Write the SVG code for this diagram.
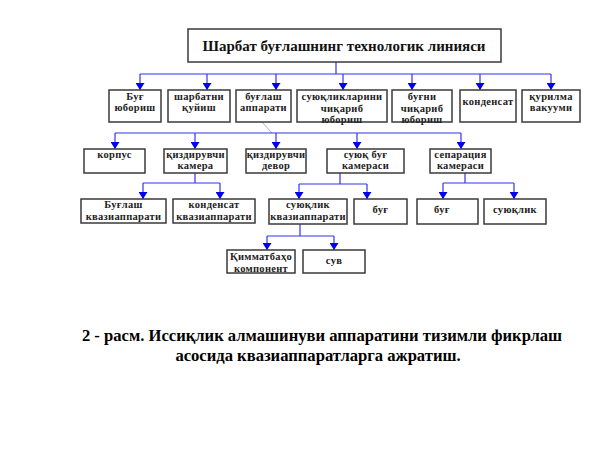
<svg xmlns="http://www.w3.org/2000/svg" width="612" height="454" viewBox="0 0 612 454">
<defs>
<style>
.box{fill:#fff;stroke:#3a3a3a;stroke-width:1.5}
text{font-family:'Liberation Serif','DejaVu Serif',serif;font-weight:bold}
.t{font-size:10.5px;fill:#222;text-anchor:middle;letter-spacing:0.3px}
.title{font-size:15px;fill:#111;text-anchor:middle}
.cap{font-size:16.6px;fill:#000;text-anchor:middle}
.c{fill:none;stroke:#3333ee;stroke-width:1.2}
.ca{fill:none;stroke:#3333ee;stroke-width:1.2;marker-end:url(#ah)}
</style>
<marker id="ah" viewBox="0 0 7 9" refX="7" refY="4.5" markerWidth="7" markerHeight="9" markerUnits="userSpaceOnUse" orient="auto">
<path d="M0,0 L7,4.5 L0,9 z" fill="#0000ee"/>
</marker>
</defs>
<rect width="612" height="454" fill="#fff"/>
<g id="connectors">
<path class="c" d="M336,62 V74 M140,74 H551"/>
<path class="ca" d="M140,74 V90"/>
<path class="ca" d="M207,74 V90"/>
<path class="ca" d="M276,74 V90"/>
<path class="ca" d="M343,74 V90"/>
<path class="ca" d="M412,74 V90"/>
<path class="ca" d="M480,74 V90"/>
<path class="ca" d="M551,74 V90"/>
<path d="M262,122 L272,133" fill="none" stroke="#aab0e0" stroke-width="1"/>
<path class="c" d="M115,133 H461"/>
<path class="ca" d="M115,133 V149"/>
<path class="ca" d="M195,133 V149"/>
<path class="ca" d="M276,133 V149"/>
<path class="ca" d="M357,133 V149"/>
<path class="ca" d="M461,133 V149"/>
<path class="c" d="M195,173 V183 M143,183 H220"/>
<path class="ca" d="M143,183 V199"/>
<path class="ca" d="M220,183 V199"/>
<path class="c" d="M340,173 V184 M299,184 H367"/>
<path class="ca" d="M299,184 V199"/>
<path class="ca" d="M367,184 V199"/>
<path class="c" d="M465,173 V183 M443,183 H514"/>
<path class="ca" d="M443,183 V199"/>
<path class="ca" d="M514,183 V199"/>
<path class="c" d="M300,224 V236 M267,236 H334"/>
<path class="ca" d="M267,236 V250"/>
<path class="ca" d="M334,236 V250"/>
</g>
<g id="root">
<rect class="box" x="188" y="29" width="313" height="33"/>
<text class="title" x="344" y="51">Шарбат буғлашнинг технологик линияси</text>
</g>
<g id="n-bug-yuborish">
<rect class="box" x="109" y="90" width="52" height="32"/>
<text class="t" x="135" y="100">Буғ</text>
<text class="t" x="135" y="111">юбориш</text>
</g>
<g id="n-sharbat">
<rect class="box" x="168" y="90" width="62" height="32"/>
<text class="t" x="199" y="100">шарбатни</text>
<text class="t" x="199" y="111">қуйиш</text>
</g>
<g id="n-buglash-apparati">
<rect class="box" x="236" y="90" width="55" height="32"/>
<text class="t" x="263.5" y="100">буғлаш</text>
<text class="t" x="263.5" y="111">аппарати</text>
</g>
<g id="n-suyuqliklar">
<rect class="box" x="297" y="90" width="90" height="32"/>
<text class="t" x="342" y="100">суюқликларини</text>
<text class="t" x="342" y="112">чиқариб</text>
<text class="t" x="342" y="123">юбориш</text>
</g>
<g id="n-bugni">
<rect class="box" x="392" y="90" width="60" height="32"/>
<text class="t" x="422" y="100">буғни</text>
<text class="t" x="422" y="112">чиқариб</text>
<text class="t" x="422" y="123">юбориш</text>
</g>
<g id="n-kondensat">
<rect class="box" x="460" y="90" width="56" height="32"/>
<text class="t" x="488" y="105">конденсат</text>
</g>
<g id="n-vakuum">
<rect class="box" x="522" y="90" width="58" height="32"/>
<text class="t" x="551" y="100">қурилма</text>
<text class="t" x="551" y="111">вакууми</text>
</g>
<g id="n-korpus">
<rect class="box" x="84" y="149" width="61" height="24"/>
<text class="t" x="114.5" y="158">корпус</text>
</g>
<g id="n-qizdiruvchi-kamera">
<rect class="box" x="164" y="149" width="63" height="24"/>
<text class="t" x="195.5" y="158">қиздирувчи</text>
<text class="t" x="195.5" y="169">камера</text>
</g>
<g id="n-qizdiruvchi-devor">
<rect class="box" x="246" y="149" width="60" height="24"/>
<text class="t" x="276" y="158">қиздирувчи</text>
<text class="t" x="276" y="169">девор</text>
</g>
<g id="n-suyuq-bug">
<rect class="box" x="327" y="149" width="77" height="24"/>
<text class="t" x="365.5" y="158">суюқ буғ</text>
<text class="t" x="365.5" y="169">камераси</text>
</g>
<g id="n-separatsiya">
<rect class="box" x="430" y="149" width="61" height="24"/>
<text class="t" x="460.5" y="158">сепарация</text>
<text class="t" x="460.5" y="169">камераси</text>
</g>
<g id="n-buglash-kvazi">
<rect class="box" x="81" y="199" width="85" height="24"/>
<text class="t" x="123.5" y="208">Буғлаш</text>
<text class="t" x="123.5" y="220">квазиаппарати</text>
</g>
<g id="n-kondensat-kvazi">
<rect class="box" x="173" y="199" width="82" height="24"/>
<text class="t" x="214" y="208">конденсат</text>
<text class="t" x="214" y="220">квазиаппарати</text>
</g>
<g id="n-suyuqlik-kvazi">
<rect class="box" x="269" y="199" width="78" height="25"/>
<text class="t" x="308" y="208">суюқлик</text>
<text class="t" x="308" y="220">квазиаппарати</text>
</g>
<g id="n-bug-1">
<rect class="box" x="354" y="199" width="53" height="25"/>
<text class="t" x="380.5" y="213">буғ</text>
</g>
<g id="n-bug-2">
<rect class="box" x="417" y="199" width="61" height="25"/>
<text class="t" x="442" y="213">буғ</text>
</g>
<g id="n-suyuqlik">
<rect class="box" x="484" y="199" width="62" height="25"/>
<text class="t" x="515" y="213">суюқлик</text>
</g>
<g id="n-qimmatbaho">
<rect class="box" x="227" y="250" width="68" height="23"/>
<text class="t" x="261" y="260">Қимматбаҳо</text>
<text class="t" x="261" y="272">компонент</text>
</g>
<g id="n-suv">
<rect class="box" x="303" y="250" width="62" height="23"/>
<text class="t" x="334" y="264">сув</text>
</g>
<g id="caption">
<text class="cap" x="322" y="341">2 - расм. Иссиқлик алмашинуви аппаратини тизимли фикрлаш</text>
<text class="cap" x="318" y="361">асосида квазиаппаратларга ажратиш.</text>
</g>
</svg>
